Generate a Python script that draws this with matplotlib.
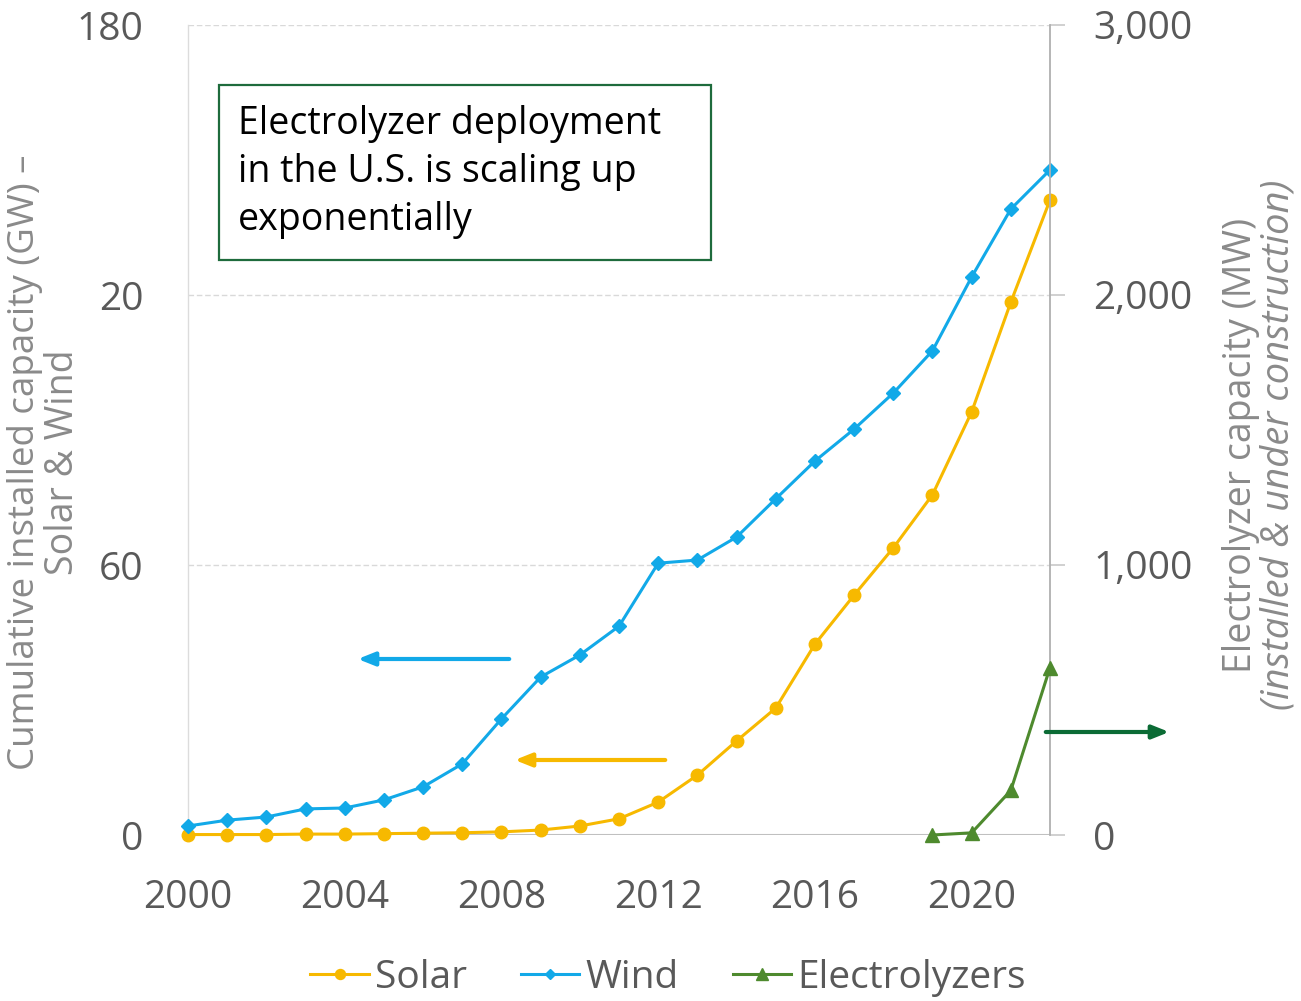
import matplotlib
matplotlib.use("Agg")
import matplotlib.pyplot as plt
from matplotlib.patches import Rectangle, FancyArrowPatch

plt.rcParams['font.family'] = ['Open Sans', 'DejaVu Sans']

years = list(range(2000, 2023))
solar = [0.1, 0.1, 0.1, 0.2, 0.2, 0.3, 0.4, 0.5, 0.7, 1.1, 2.0, 3.6, 7.3, 13.3, 20.9, 28.2,
         42.4, 53.3, 63.8, 75.6, 94.0, 118.4, 141.1]
wind = [2.0, 3.3, 4.0, 5.8, 6.0, 7.8, 10.7, 15.8, 25.8, 35.1, 40.0, 46.4, 60.4, 61.1, 66.2,
        74.7, 83.1, 90.2, 98.2, 107.6, 124.0, 139.1, 147.8]
elec_years = [2019, 2020, 2021, 2022]
electrolyzers = [0, 8, 165, 620]

left_ticks = [0, 60, 120, 180]
left_labels = ["0", "60", "20", "180"]
right_ticks = [0, 1000, 2000, 3000]
right_labels = ["0", "1,000", "2,000", "3,000"]
x_ticks = [2000, 2004, 2008, 2012, 2016, 2020]

c_solar = "#F7B900"
c_wind = "#12A9E8"
c_elec = "#4E8A2E"
c_arrow_green = "#0B6B35"
tick_col = "#595959"
lab_col = "#8a8a8a"

W, H = 1301, 1001
fig = plt.figure(figsize=(W / 100, H / 100), dpi=100)
ax = fig.add_axes([188 / W, 1 - 835 / H, (1050 - 188) / W, (835 - 25) / H])
ax2 = ax.twinx()

ax.set_xlim(2000, 2022)
ax.set_ylim(0, 180)
ax2.set_ylim(0, 3000)

for yv in [60, 120, 180]:
    ax.axhline(yv, color="#d9d9d9", lw=1.0, ls=(0, (4, 2)), zorder=0)

ax.plot(years, solar, color=c_solar, lw=2.2, marker="o", ms=9, label="Solar", clip_on=False, zorder=3)
ax.plot(years, wind, color=c_wind, lw=2.2, marker="D", ms=7, label="Wind", clip_on=False, zorder=4)
ax2.plot(elec_years, electrolyzers, color=c_elec, lw=2.2, marker="^", ms=10, label="Electrolyzers",
         clip_on=False, zorder=5)

for a in (ax, ax2):
    for s in a.spines.values():
        s.set_visible(False)
ax.spines['left'].set_visible(True)
ax.spines['left'].set_color("#dcdcdc")
ax.spines['left'].set_linewidth(1.0)
ax2.spines['right'].set_visible(True)
ax2.spines['right'].set_color("#b0b0b0")
ax2.spines['right'].set_linewidth(1.3)
ax.axhline(0, color="#c0c0c0", lw=1.5, zorder=1)

ax.set_yticks(left_ticks)
ax.set_yticklabels(left_labels)
ax.tick_params(axis='y', length=0, pad=32, labelsize=28, labelcolor=tick_col)
ax2.set_yticks(right_ticks)
ax2.set_yticklabels(right_labels)
ax2.tick_params(axis='y', length=11, width=1.2, color="#c8c8c8", pad=20, labelsize=28, labelcolor=tick_col)
ax.set_xticks(x_ticks)
ax.set_xticklabels([str(x) for x in x_ticks])
ax.tick_params(axis='x', length=0, pad=32, labelsize=28, labelcolor=tick_col)

# Axis titles
fig.text(25 / W, 1 - 462 / H, "Cumulative installed capacity (GW) \u2013", rotation=90,
         ha="center", va="center", fontsize=26.5, color=lab_col)
fig.text(63 / W, 1 - 462 / H, "Solar & Wind", rotation=90,
         ha="center", va="center", fontsize=27, color=lab_col)
fig.text(1241 / W, 1 - 445 / H, "Electrolyzer capacity (MW)", rotation=90,
         ha="center", va="center", fontsize=27, color=lab_col)
fig.text(1279 / W, 1 - 445 / H, "(installed & under construction)", rotation=90,
         ha="center", va="center", fontsize=27.5, color=lab_col, style="italic")

# Text box
fig.patches.append(Rectangle((219 / W, 1 - 260 / H), (711 - 219) / W, (260 - 85) / H,
                             transform=fig.transFigure, fill=True, facecolor="white",
                             edgecolor="#1E6B3C", lw=1.6, zorder=10))
fig.text(238 / W, 1 - 172 / H, "Electrolyzer deployment\nin the U.S. is scaling up\nexponentially",
         ha="left", va="center", fontsize=27, color="black", linespacing=1.36, zorder=11)

# Arrows
def arrow(x0, x1, y, col):
    fig.patches.append(FancyArrowPatch((x0 / W, 1 - y / H), (x1 / W, 1 - y / H),
                                       transform=fig.transFigure, arrowstyle="-|>,head_length=10,head_width=4",
                                       color=col, lw=3, mutation_scale=1, zorder=12))

arrow(512, 355, 659, c_wind)
arrow(668, 512, 760, c_solar)
arrow(1043, 1172, 732, c_arrow_green)

# Legend
h1, l1 = ax.get_legend_handles_labels()
h2, l2 = ax2.get_legend_handles_labels()
fig.legend(h1 + h2, l1 + l2, loc="center", bbox_to_anchor=(668 / W, 1 - 978 / H), ncol=3,
           frameon=False, fontsize=28, labelcolor=tick_col, handlelength=1.5, handletextpad=0.15,
           columnspacing=1.4, borderpad=0, markerscale=0.8)

fig.savefig("out.png", dpi=100)
